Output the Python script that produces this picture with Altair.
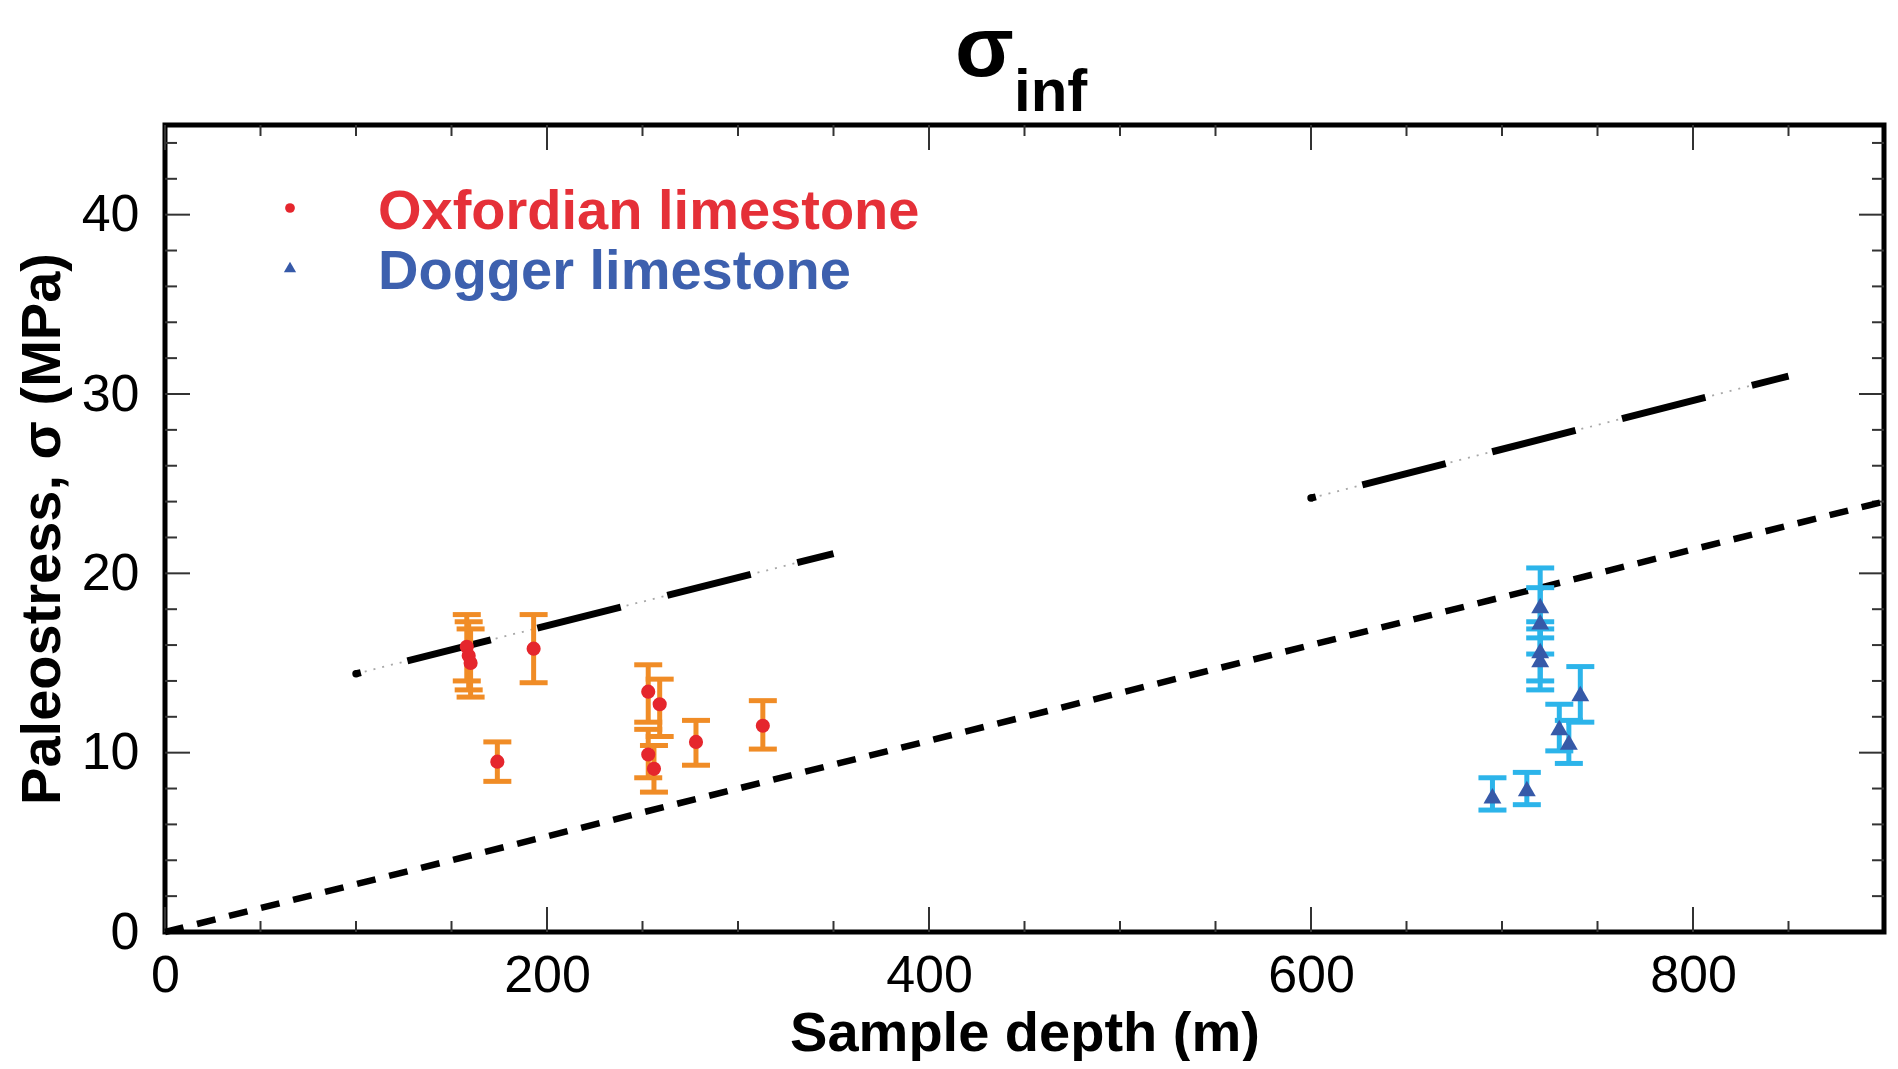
import altair as alt
import pandas as pd

# ---------------- data ----------------
ox_depth = [158, 159, 160, 174, 193, 253, 259, 253, 256, 278, 313]
ox_stress = [15.9, 15.4, 15.0, 9.5, 15.8, 13.4, 12.7, 9.9, 9.1, 10.6, 11.5]
ox_low = [14.0, 13.5, 13.1, 8.4, 13.9, 11.7, 10.9, 8.6, 7.8, 9.3, 10.2]
ox_high = [17.7, 17.3, 16.9, 10.6, 17.7, 14.9, 14.1, 11.3, 10.4, 11.8, 12.9]

dg_depth = [720, 720, 720, 720, 741, 730, 735, 695, 713]
dg_stress = [18.2, 17.3, 15.7, 15.2, 13.3, 11.4, 10.6, 7.6, 8.0]
dg_low = [16.4, 15.5, 14.0, 13.5, 11.7, 10.1, 9.4, 6.8, 7.1]
dg_high = [20.3, 19.2, 17.3, 16.9, 14.8, 12.7, 11.8, 8.6, 8.9]

litho_depth = [0, 900]
litho_stress = [0, 24]
ox_line_depth = [100, 350]
ox_line_stress = [14.4, 21.1]
dg_line_depth = [600, 850]
dg_line_stress = [24.2, 31.0]

x_labels = [0, 200, 400, 600, 800]
x_minor = [50, 100, 150, 250, 300, 350, 450, 500, 550, 650, 700, 750, 850]
y_labels = [0, 10, 20, 30, 40]
y_major = [10, 20, 30, 40]
y_minor = [2, 4, 6, 8, 12, 14, 16, 18, 22, 24, 26, 28, 32, 34, 36, 38, 42, 44]

legend_names = ["Oxfordian limestone", "Dogger limestone"]
title_main = "σ"
title_sub = "inf"

# ---------------- layout ----------------
W, H = 1719, 807
RED, ORANGE = "#e5262d", "#f08c26"
DBLUE, LBLUE = "#3659a8", "#2cb4ea"

xs = alt.Scale(domain=[0, 900], nice=False, zero=False)
ys = alt.Scale(domain=[0, 45], nice=False, zero=False)

xaxis = alt.Axis(values=x_labels, ticks=False, domain=False, grid=False,
                 labelFont="Liberation Sans", labelFontSize=52, labelColor="black",
                 labelPadding=18, format="d", labelFlush=False,
                 title="Sample depth (m)", titleFont="Liberation Sans",
                 titleFontSize=56, titleFontWeight="bold", titleColor="black",
                 titlePadding=5)
yaxis = alt.Axis(values=y_labels, ticks=False, domain=False, grid=False,
                 labelFont="Liberation Sans", labelFontSize=52, labelColor="black",
                 labelPadding=26, format="d", labelFlush=False,
                 title="Paleostress, σ (MPa)", titleFont="Liberation Sans",
                 titleFontSize=56, titleFontWeight="bold", titleColor="black",
                 titlePadding=10)


def X(f):
    return alt.X(f, type="quantitative", scale=xs, axis=xaxis)


def Y(f):
    return alt.Y(f, type="quantitative", scale=ys, axis=yaxis)


ox = pd.DataFrame({"d": ox_depth, "s": ox_stress, "lo": ox_low, "hi": ox_high})
dg = pd.DataFrame({"d": dg_depth, "s": dg_stress, "lo": dg_low, "hi": dg_high})

layers = []

# tick marks (inside, mirrored on all four sides)
xmaj = pd.DataFrame({"v": x_labels})
xmin = pd.DataFrame({"v": x_minor})
ymaj = pd.DataFrame({"v": y_major})
ymin = pd.DataFrame({"v": y_minor})
tk = dict(color="#333333", strokeWidth=2)
for df, L in ((xmaj, 25), (xmin, 11)):
    layers.append(alt.Chart(df).mark_rule(**tk).encode(x=X("v"), y=alt.value(H), y2=alt.value(H - L)))
    layers.append(alt.Chart(df).mark_rule(**tk).encode(x=X("v"), y=alt.value(0), y2=alt.value(L)))
for df, L in ((ymaj, 25), (ymin, 12)):
    layers.append(alt.Chart(df).mark_rule(**tk).encode(y=Y("v"), x=alt.value(0), x2=alt.value(L)))
    layers.append(alt.Chart(df).mark_rule(**tk).encode(y=Y("v"), x=alt.value(W), x2=alt.value(W - L)))

# reference lines
litho = pd.DataFrame({"d": litho_depth, "s": litho_stress})
layers.append(alt.Chart(litho).mark_line(color="black", strokeWidth=6.5, strokeDash=[19, 14])
              .encode(x=X("d"), y=Y("s")))
for dd, ss in ((ox_line_depth, ox_line_stress), (dg_line_depth, dg_line_stress)):
    ldf = pd.DataFrame({"d": dd, "s": ss})
    layers.append(alt.Chart(ldf).mark_line(color="#a8a8a8", strokeWidth=1.8, strokeDash=[2, 7])
                  .encode(x=X("d"), y=Y("s")))
    layers.append(alt.Chart(ldf).mark_line(color="black", strokeWidth=7, strokeDash=[86, 48],
                                           strokeDashOffset=81)
                  .encode(x=X("d"), y=Y("s")))
    layers.append(alt.Chart(ldf.iloc[:1]).mark_point(shape="circle", filled=True, color="black",
                                                     size=55, opacity=1)
                  .encode(x=X("d"), y=Y("s")))

# error bars
for df, c in ((ox, ORANGE), (dg, LBLUE)):
    layers.append(alt.Chart(df).mark_rule(color=c, strokeWidth=5)
                  .encode(x=X("d"), y=Y("lo"), y2="hi"))
    for f in ("lo", "hi"):
        layers.append(alt.Chart(df).mark_tick(color=c, orient="horizontal", size=28,
                                              thickness=5, opacity=1)
                      .encode(x=X("d"), y=Y(f)))

# points
layers.append(alt.Chart(ox).mark_point(shape="circle", filled=True, color=RED, size=200, opacity=1)
              .encode(x=X("d"), y=Y("s")))
layers.append(alt.Chart(dg).mark_point(shape="triangle-up", filled=True, color=DBLUE, size=320,
                                       opacity=1)
              .encode(x=X("d"), y=Y("s")))

# legend (drawn inside plot)
leg = pd.DataFrame({"n": legend_names})
layers.append(alt.Chart(leg.iloc[:1]).mark_point(shape="circle", filled=True, color=RED, size=95,
                                                 opacity=1)
              .encode(x=alt.value(125), y=alt.value(83)))
layers.append(alt.Chart(leg.iloc[1:]).mark_point(shape="triangle-up", filled=True, color=DBLUE,
                                                 size=150, opacity=1)
              .encode(x=alt.value(125), y=alt.value(142)))
layers.append(alt.Chart(leg.iloc[:1]).mark_text(align="left", baseline="middle", color="#e53038",
                                                font="Liberation Sans", fontWeight="bold",
                                                fontSize=56)
              .encode(text="n:N", x=alt.value(213), y=alt.value(87)))
layers.append(alt.Chart(leg.iloc[1:]).mark_text(align="left", baseline="middle", color="#3d60ae",
                                                font="Liberation Sans", fontWeight="bold",
                                                fontSize=56)
              .encode(text="n:N", x=alt.value(213), y=alt.value(147)))

# title sigma_inf
tdf = pd.DataFrame({"t": [title_main], "u": [title_sub]})
layers.append(alt.Chart(tdf).mark_text(align="left", baseline="alphabetic", color="black",
                                       font="Liberation Sans", fontWeight="bold", fontSize=86)
              .encode(text="t:N", x=alt.value(790), y=alt.value(-49)))
layers.append(alt.Chart(tdf).mark_text(align="left", baseline="alphabetic", color="black",
                                       font="Liberation Sans", fontWeight="bold", fontSize=60)
              .encode(text="u:N", x=alt.value(849), y=alt.value(-14)))

chart = alt.layer(*layers).properties(
    width=W, height=H,
    background="white",
    autosize=alt.AutoSizeParams(type="none"),
    padding={"left": 157, "top": 117, "right": 4, "bottom": 129},
).configure_view(stroke="black", strokeWidth=5)

chart.save("out.html", embed_options={"renderer": "svg", "actions": False})
